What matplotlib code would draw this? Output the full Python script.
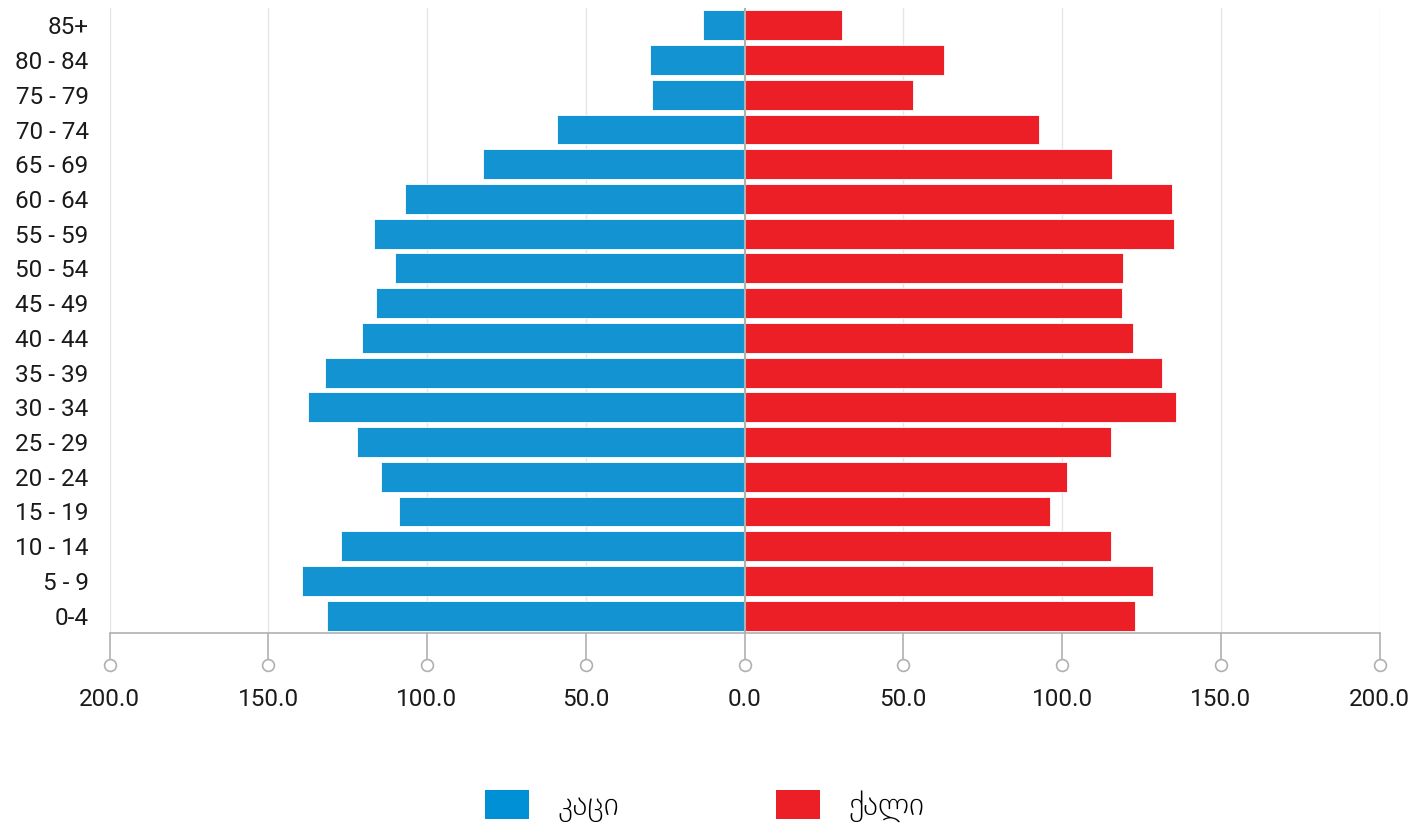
"""
ასაკობრივი პირამიდა - კაცი / ქალი
"""
import numpy as np
import matplotlib.pyplot as plt
from matplotlib.patches import Patch
from matplotlib.transforms import blended_transform_factory

plt.rcParams['font.family'] = ['Roboto', 'DejaVu Sans']

# 年龄组 (从下到上)
age_groups = ['0-4', '5 - 9', '10 - 14', '15 - 19', '20 - 24', '25 - 29', '30 - 34',
              '35 - 39', '40 - 44', '45 - 49', '50 - 54', '55 - 59', '60 - 64',
              '65 - 69', '70 - 74', '75 - 79', '80 - 84', '85+']
men = [131.5, 139.4, 127.1, 108.8, 114.5, 122.0, 137.5, 132.1, 120.5,
       116.1, 110.1, 116.7, 106.9, 82.4, 59.1, 29.1, 29.8, 13.1]
women = [123.0, 128.7, 115.4, 96.2, 101.6, 115.4, 135.9, 131.5, 122.4,
         118.9, 119.2, 135.3, 134.6, 115.7, 92.8, 53.1, 62.8, 30.7]
x_ticks = [-200, -150, -100, -50, 0, 50, 100, 150, 200]
labels = ['კაცი', 'ქალი']

blue = '#1493d2'
red = '#ed1f26'
grey = '#b0b0b0'

fig = plt.figure(figsize=(14.27, 8.25), dpi=100)
ax = fig.add_axes([109.5 / 1427, 1 - 633 / 825, 1270 / 1427, 625 / 825])

y = np.arange(len(age_groups))
ax.barh(y, -np.array(men), height=0.86, color=blue, edgecolor='white', linewidth=0.6, zorder=2)
ax.barh(y, women, height=0.86, color=red, edgecolor='white', linewidth=0.6, zorder=2)

ax.set_xlim(-200, 200)
ax.set_ylim(-0.5, len(age_groups) - 0.5)

# 网格和中线
for xt in x_ticks:
    ax.axvline(xt, color='#e6e6e6', linewidth=1, zorder=0)
ax.axvline(0, color=grey, linewidth=1.5, zorder=3)

for side in ['top', 'right', 'left']:
    ax.spines[side].set_visible(False)
ax.spines['bottom'].set_color(grey)
ax.spines['bottom'].set_linewidth(1.2)

ax.set_yticks(y)
ax.set_yticklabels(age_groups)
ax.tick_params(axis='y', length=0, pad=15, labelsize=17.5, labelcolor='#1a1a1a')

ax.set_xticks(x_ticks)
ax.set_xticklabels([f'{abs(v):.1f}' for v in x_ticks])
ax.tick_params(axis='x', direction='out', length=18.7, width=1.2, color=grey,
               pad=21, labelsize=17.5, labelcolor='#1a1a1a')

# 刻度末端的小圆圈
trans = blended_transform_factory(ax.transData, ax.transAxes)
ax.plot(x_ticks, [-0.0512] * len(x_ticks), linestyle='none', marker='o', markersize=8.5,
        markerfacecolor='white', markeredgecolor=grey, markeredgewidth=1.2,
        transform=trans, clip_on=False, zorder=4)

handles = [Patch(facecolor='#0090d6'), Patch(facecolor=red)]
fig.legend(handles, labels, loc='upper left', bbox_to_anchor=(485 / 1427, 1 - 790 / 825),
           ncol=2, frameon=False, prop={'size': 23, 'weight': 'light'},
           handlelength=1.375, handleheight=1.0,
           handletextpad=0.9, columnspacing=4.9, borderpad=0, borderaxespad=0)

fig.savefig('out.png', dpi=100)
